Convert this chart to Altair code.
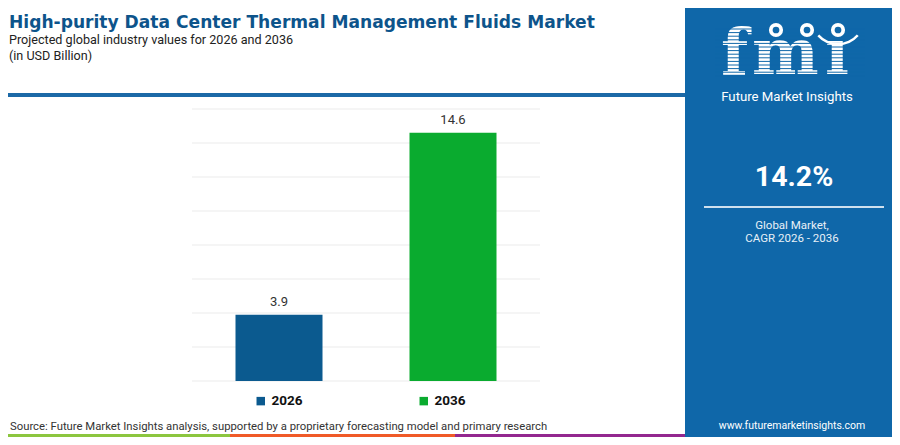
import altair as alt
import pandas as pd

years = ["2026", "2036"]
values = [3.9, 14.6]
bar_colors = ["#0b5a8f", "#0aab2f"]
grid_ticks = [0, 2, 4, 6, 8, 10, 12, 14, 16]

title_text = "High-purity Data Center Thermal Management Fluids Market"
subtitle_text = "Projected global industry values for 2026 and 2036"
unit_text = "(in USD Billion)"
source_text = "Source: Future Market Insights analysis, supported by a proprietary forecasting model and primary research"
cagr_text = "14.2%"
cagr_label1 = "Global Market,"
cagr_label2 = "CAGR 2026 - 2036"
brand_text = "Future Market Insights"
url_text = "www.futuremarketinsights.com"

df = pd.DataFrame({"year": years, "value": values})
grid_df = pd.DataFrame({"tick": grid_ticks})

W, H = 348, 272
PL, PT = 184, 101
TOTAL_W, TOTAL_H = 884, 429
PANEL = "#0f67a9"


def ix(x):
    return x - 192


def iy(y):
    return y - 109


one = alt.Data(values=[{"k": 0}])


def txt(text, x, y, size, color, weight="normal", font="Roboto", align="left", baseline="middle"):
    return alt.Chart(one).mark_text(
        text=text, fontSize=size, color=color, fontWeight=weight, font=font,
        align=align, baseline=baseline
    ).encode(x=alt.value(ix(x)), y=alt.value(iy(y)))


def box(x1, x2, y1, y2, color, opacity=1.0):
    return alt.Chart(one).mark_rect(color=color, opacity=opacity).encode(
        x=alt.value(ix(x1)), x2=alt.value(ix(x2)), y=alt.value(iy(y1)), y2=alt.value(iy(y2))
    )


def hline(x1, x2, y, color, width):
    return alt.Chart(one).mark_rule(color=color, strokeWidth=width).encode(
        x=alt.value(ix(x1)), x2=alt.value(ix(x2)), y=alt.value(iy(y))
    )


yscale = alt.Scale(domain=[0, 16], nice=False)

grid = alt.Chart(grid_df).mark_rule(color="#ebebeb", strokeWidth=1).encode(
    y=alt.Y("tick:Q", scale=yscale, axis=None),
    x=alt.value(0),
    x2=alt.value(W),
)

bars = alt.Chart(df).mark_bar().encode(
    x=alt.X("year:N", axis=None, scale=alt.Scale(paddingInner=0.5, paddingOuter=0.25)),
    y=alt.Y("value:Q", scale=yscale, axis=None),
    color=alt.Color(
        "year:N",
        scale=alt.Scale(domain=years, range=bar_colors),
        legend=alt.Legend(
            orient="none", legendX=ix(254), legendY=iy(394), direction="horizontal",
            title=None, symbolType="square", symbolSize=72, symbolStrokeWidth=0,
            labelFont="Roboto", labelFontSize=13.5, labelFontWeight="bold",
            labelColor="#111111", columnPadding=114, padding=0, labelOffset=4,
        ),
    ),
)

labels = alt.Chart(df).mark_text(dy=-13, fontSize=13, color="#333333", font="Roboto").encode(
    x="year:N", y="value:Q", text=alt.Text("value:Q", format=".1f")
)

layers = [
    box(685, 905, 0, 450, PANEL),
    hline(0, 685, 95, "#1c69a7", 4),
    txt(title_text, 9, 27.5, 17.1, "#0d548b", weight="bold", font="DejaVu Sans", baseline="alphabetic"),
    txt(subtitle_text, 9, 44, 12.6, "#222222", font="Roboto", baseline="alphabetic"),
    txt(unit_text, 9, 60, 12.6, "#222222", font="Roboto", baseline="alphabetic"),
    txt(source_text, 10, 427, 11.3, "#333333", font="Roboto"),
    hline(0, 230, 435.5, "#8cc63f", 3),
    hline(230, 455, 435.5, "#f05a28", 3),
    hline(455, 685, 435.5, "#93278f", 3),
    grid,
    bars,
    labels,
]

# logo
logo_font = "DejaVu Serif"
layers += [
    txt("f", 721, 74, 63, "white", weight="bold", font=logo_font, baseline="alphabetic"),
    txt("m", 752, 74, 63, "white", weight="bold", font=logo_font, baseline="alphabetic"),
    txt("\u0131", 825, 74, 63, "white", weight="bold", font=logo_font, baseline="alphabetic"),
]
stripe_y = 29.0
while stripe_y < 76:
    layers.append(hline(715, 865, stripe_y, PANEL, 1.0))
    stripe_y += 3.6

for cx in [776, 807, 838]:
    layers.append(
        alt.Chart(one).mark_point(filled=True, shape="circle", size=200, color="white", opacity=1).encode(
            x=alt.value(ix(cx)), y=alt.value(iy(30))
        )
    )
    layers.append(
        alt.Chart(one).mark_point(filled=True, shape="circle", size=45, color=PANEL, opacity=1).encode(
            x=alt.value(ix(cx)), y=alt.value(iy(30))
        )
    )
layers.append(
    alt.Chart(one).mark_arc(innerRadius=25, outerRadius=27.5, theta=2.29, theta2=3.99, color="white").encode(
        x=alt.value(ix(838)), y=alt.value(iy(18))
    )
)

layers += [
    txt(brand_text, 787, 97, 13.2, "white", font="Roboto", align="center"),
    txt(cagr_text, 794, 177, 28.5, "white", weight="bold", font="Roboto", align="center"),
    hline(704, 884, 207, "#cfe0ee", 2),
    txt(cagr_label1, 792, 226, 11.5, "#e8f0f7", font="Roboto", align="center"),
    txt(cagr_label2, 792, 239, 11.5, "#e8f0f7", font="Roboto", align="center"),
    txt(url_text, 792, 426, 10.5, "white", font="Roboto", align="center"),
]

chart = alt.layer(*layers).properties(
    width=W,
    height=H,
    padding={"left": PL, "top": PT, "right": TOTAL_W - PL - W, "bottom": TOTAL_H - PT - H},
    autosize=alt.AutoSizeParams(type="none"),
).configure_view(stroke=None)

chart.save("out.html", embed_options={"renderer": "svg", "actions": False})
